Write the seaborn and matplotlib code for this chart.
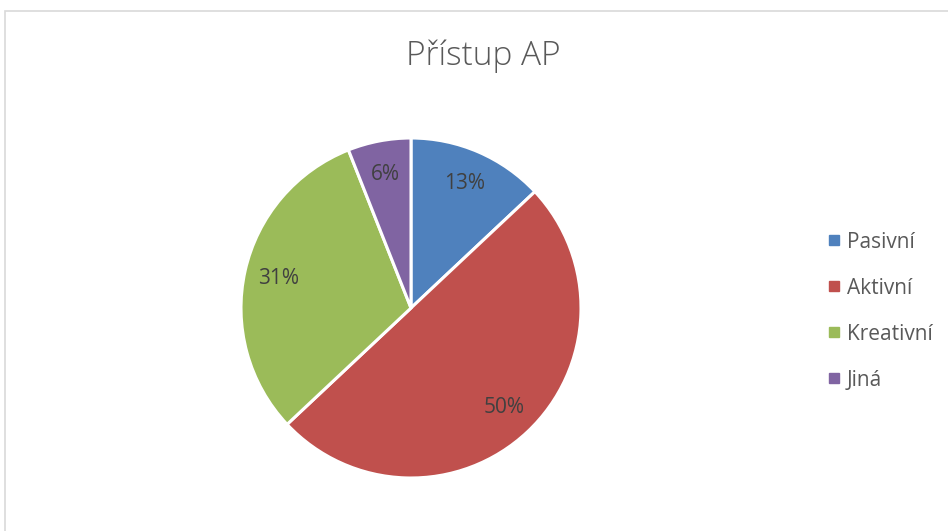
import matplotlib
matplotlib.use("Agg")
import matplotlib.pyplot as plt
from matplotlib.lines import Line2D
from matplotlib.patches import Rectangle
import seaborn as sns

categories = ["Pasivní", "Aktivní", "Kreativní", "Jiná"]
shares = [13, 50, 31, 6]
colors = ["#4F81BD", "#C0504D", "#9BBB59", "#8064A2"]
title = "Přístup AP"

sns.set_theme(style="white")
plt.rcParams['font.family'] = ['Open Sans', 'DejaVu Sans']

W, H = 948, 531
fig = plt.figure(figsize=(W / 100, H / 100), dpi=100)

# pie centre (411, 308) px, radius 170 px
cx, cy, r = 411, 308, 170
ax = fig.add_axes([(cx - r) / W, (H - cy - r) / H, 2 * r / W, 2 * r / H])
wedges, _, autotexts = ax.pie(
    shares, colors=colors, startangle=90, counterclock=False,
    autopct='%1.0f%%', pctdistance=0.8,
    wedgeprops=dict(edgecolor='white', linewidth=2.2),
    textprops=dict(fontsize=15, color='#404040'),
)
ax.set_xlim(-1, 1)
ax.set_ylim(-1, 1)
ax.set_aspect('equal')
ax.axis('off')

fig.text(483 / W, 1 - 56 / H, title, ha='center', va='center',
         fontsize=24, color='#595959', fontweight='light')

handles = [Line2D([], [], marker='s', linestyle='none', markersize=6.5,
                  markerfacecolor=c, markeredgecolor=c) for c in colors]
leg = fig.legend(handles, categories, loc='center left',
                 bbox_to_anchor=(828 / W, 1 - 311 / H),
                 frameon=False, fontsize=15, handlelength=0.55,
                 handletextpad=0.35, labelspacing=1.2,
                 borderpad=0, borderaxespad=0)
for t in leg.get_texts():
    t.set_color('#595959')

# chart frame, cut off at the right and bottom
fig.patches.append(Rectangle((4.5 / W, -0.1), 1.2, 1 - 10.5 / H + 0.1,
                             transform=fig.transFigure, fill=False,
                             edgecolor='#d9d9d9', linewidth=1.2))

fig.savefig('out.png', dpi=100)
